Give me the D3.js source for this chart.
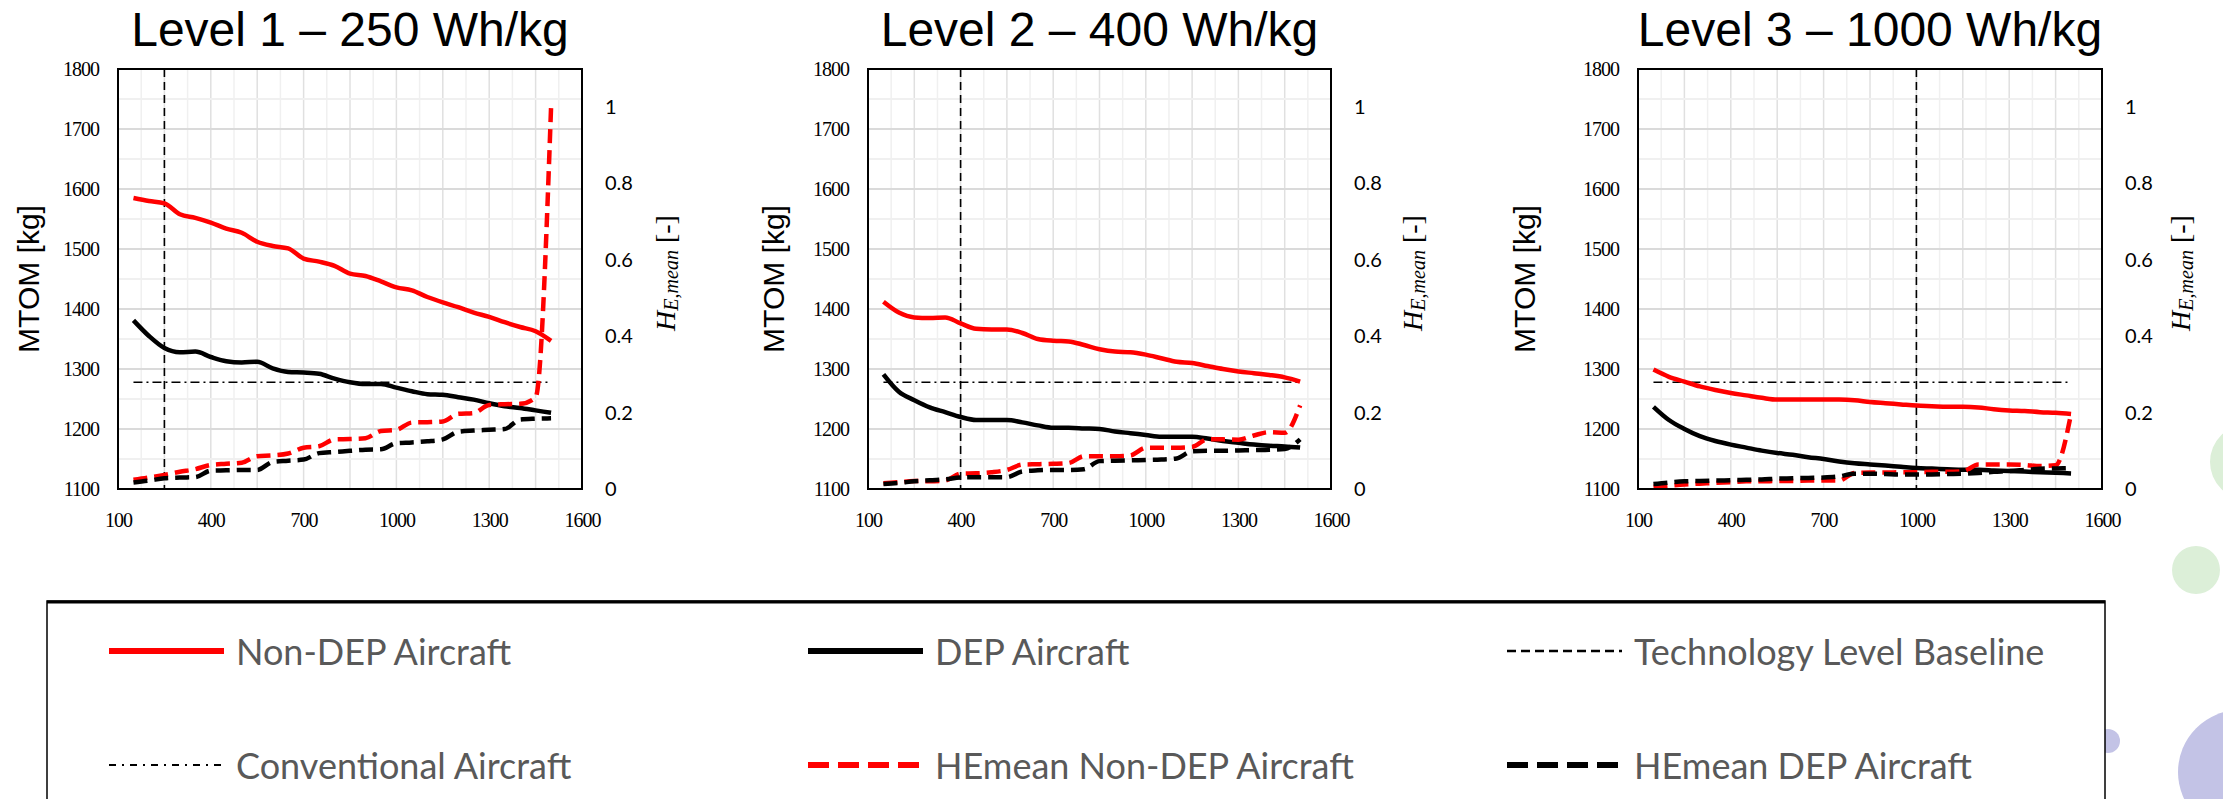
<!DOCTYPE html>
<html>
<head>
<meta charset="utf-8">
<script src="https://cdn.jsdelivr.net/npm/d3@7"></script>
<style>
  body { margin: 0; background: #fff; }
  svg { display: block; }
  .ytick text, .xtick text { font-family: "Liberation Serif", serif; font-size: 20px; letter-spacing: -1px; fill: #000; }
  .htick text { font-family: Lato, sans-serif; font-size: 20px; fill: #000; }
</style>
</head>
<body>
<svg width="2223" height="799"></svg>
<script>
// range values (x) shared by all three panels
const ranges = [150, 200, 250, 300, 350, 400, 450, 500, 550, 600, 650, 700, 750, 800,
                850, 900, 950, 1000, 1050, 1100, 1150, 1200, 1250, 1300, 1350, 1400, 1450, 1500];

const titles = ["Level 1 \u2013 250 Wh/kg", "Level 2 \u2013 400 Wh/kg", "Level 3 \u2013 1000 Wh/kg"];
const baselineRange = [250, 400, 1000];
const conventionalMTOM = 1278;

// Level 1 - MTOM [kg]
const l1NonDep = [1585, 1580, 1576, 1558, 1552, 1544, 1534, 1527, 1512, 1505, 1501, 1484, 1479, 1472,
                  1459, 1455, 1446, 1436, 1431, 1420, 1411, 1403, 1394, 1387, 1378, 1370, 1363, 1347];
const l1Dep = [1381, 1355, 1335, 1328, 1329, 1320, 1313, 1311, 1312, 1301, 1295, 1294, 1292, 1284,
               1278, 1275, 1275, 1269, 1263, 1258, 1257, 1253, 1249, 1243, 1238, 1235, 1231, 1227];
// Level 1 - HE mean [-]
const l1HeNonDep = [0.024, 0.030, 0.037, 0.045, 0.052, 0.063, 0.066, 0.069, 0.086, 0.088, 0.093, 0.108, 0.112, 0.130,
                    0.131, 0.133, 0.152, 0.155, 0.174, 0.175, 0.177, 0.197, 0.199, 0.220, 0.222, 0.223, 0.240, 1.0];
const l1HeDep = [0.017, 0.022, 0.028, 0.030, 0.031, 0.048, 0.049, 0.050, 0.050, 0.071, 0.074, 0.077, 0.094, 0.097,
                 0.100, 0.103, 0.104, 0.120, 0.122, 0.125, 0.130, 0.150, 0.153, 0.155, 0.157, 0.182, 0.184, 0.185];

// Level 2
const l2NonDep = [1412, 1394, 1386, 1385, 1386, 1376, 1367, 1366, 1366, 1360, 1350, 1347, 1346, 1340,
                  1333, 1329, 1328, 1324, 1318, 1312, 1310, 1305, 1300, 1296, 1293, 1290, 1286, 1279];
const l2Dep = [1291, 1262, 1248, 1236, 1228, 1220, 1215, 1215, 1215, 1211, 1206, 1202, 1202, 1201,
               1200, 1196, 1193, 1190, 1187, 1187, 1187, 1184, 1180, 1177, 1174, 1172, 1171, 1169];
const l2HeNonDep = [0.015, 0.018, 0.021, 0.020, 0.022, 0.040, 0.041, 0.044, 0.050, 0.064, 0.065, 0.066, 0.068, 0.086,
                    0.086, 0.086, 0.088, 0.108, 0.108, 0.108, 0.110, 0.130, 0.130, 0.129, 0.140, 0.149, 0.147, 0.219];
const l2HeDep = [0.013, 0.016, 0.020, 0.023, 0.025, 0.030, 0.031, 0.031, 0.031, 0.046, 0.049, 0.050, 0.050, 0.052,
                 0.073, 0.074, 0.075, 0.076, 0.077, 0.080, 0.099, 0.100, 0.100, 0.101, 0.102, 0.103, 0.105, 0.130];

// Level 3
const l3NonDep = [1299, 1287, 1279, 1271, 1265, 1260, 1256, 1252, 1249, 1249, 1249, 1249, 1249, 1248,
                  1245, 1243, 1241, 1239, 1238, 1237, 1237, 1236, 1233, 1231, 1230, 1228, 1227, 1225];
const l3Dep = [1237, 1215, 1200, 1188, 1180, 1174, 1169, 1164, 1160, 1157, 1153, 1150, 1146, 1143,
               1141, 1139, 1137, 1135, 1134, 1133, 1132, 1132, 1131, 1130, 1129, 1128, 1127, 1126];
const l3HeNonDep = [0.006, 0.009, 0.012, 0.014, 0.016, 0.018, 0.020, 0.020, 0.021, 0.021, 0.022, 0.022, 0.022, 0.042,
                    0.043, 0.043, 0.044, 0.044, 0.045, 0.045, 0.046, 0.064, 0.064, 0.064, 0.063, 0.060, 0.062, 0.197];
const l3HeDep = [0.013, 0.017, 0.020, 0.021, 0.022, 0.023, 0.024, 0.025, 0.027, 0.028, 0.029, 0.030, 0.033, 0.040,
                 0.040, 0.039, 0.038, 0.038, 0.038, 0.039, 0.040, 0.042, 0.045, 0.047, 0.050, 0.053, 0.054, 0.055];

const xTicks = [100, 400, 700, 1000, 1300, 1600];
const yTicks = [1100, 1200, 1300, 1400, 1500, 1600, 1700, 1800];
const heTicks = [0, 0.2, 0.4, 0.6, 0.8, 1];

const legendLabels = ["Non-DEP Aircraft", "DEP Aircraft", "Technology Level Baseline",
                      "Conventional Aircraft", "HEmean Non-DEP Aircraft", "HEmean DEP Aircraft"];

const svg = d3.select("svg");
svg.append("rect").attr("width", 2223).attr("height", 799).attr("fill", "#fff");

// decoration circles from the slide background
const deco = svg.append("g");
deco.append("circle").attr("cx", 2248).attr("cy", 462).attr("r", 38).attr("fill", "#dcefd8");
deco.append("circle").attr("cx", 2196).attr("cy", 570).attr("r", 24).attr("fill", "#dcefd8");
deco.append("circle").attr("cx", 2108).attr("cy", 741).attr("r", 12).attr("fill", "#c3c3e6");
deco.append("circle").attr("cx", 2240).attr("cy", 772).attr("r", 62).attr("fill", "#c3c3e6");

const panels = [
  {left: 118, right: 582, yLabelX: 28, hLabelX: 665, nonDep: l1NonDep, dep: l1Dep, heNonDep: l1HeNonDep, heDep: l1HeDep},
  {left: 868, right: 1331, yLabelX: 773, hLabelX: 1412, nonDep: l2NonDep, dep: l2Dep, heNonDep: l2HeNonDep, heDep: l2HeDep},
  {left: 1638, right: 2102, yLabelX: 1524, hLabelX: 2180, nonDep: l3NonDep, dep: l3Dep, heNonDep: l3HeNonDep, heDep: l3HeDep}
];
const plotTop = 69, plotBottom = 489;

panels.forEach(function(p, i) {
  const x = d3.scaleLinear().domain([100, 1600]).range([p.left, p.right]);
  const y = d3.scaleLinear().domain([1100, 1800]).range([plotBottom, plotTop]);
  const y2 = d3.scaleLinear().domain([0, 1.1]).range([plotBottom, plotTop]);
  const g = svg.append("g");

  // grid: minor then major
  const grid = g.append("g");
  grid.selectAll(".vmin").data(d3.range(175, 1600, 150)).enter().append("line")
      .attr("x1", d => x(d)).attr("x2", d => x(d)).attr("y1", plotTop).attr("y2", plotBottom)
      .attr("stroke", "#f0f0f0").attr("stroke-width", 1.5);
  grid.selectAll(".vmaj").data(d3.range(250, 1600, 150)).enter().append("line")
      .attr("x1", d => x(d)).attr("x2", d => x(d)).attr("y1", plotTop).attr("y2", plotBottom)
      .attr("stroke", "#e0e0e0").attr("stroke-width", 1.5);
  grid.selectAll(".hmin").data(d3.range(1150, 1800, 100)).enter().append("line")
      .attr("x1", p.left).attr("x2", p.right).attr("y1", d => y(d)).attr("y2", d => y(d))
      .attr("stroke", "#f0f0f0").attr("stroke-width", 2);
  grid.selectAll(".hmaj").data(d3.range(1200, 1800, 100)).enter().append("line")
      .attr("x1", p.left).attr("x2", p.right).attr("y1", d => y(d)).attr("y2", d => y(d))
      .attr("stroke", "#dadada").attr("stroke-width", 2);

  // axes
  g.append("g").attr("class", "ytick").attr("transform", "translate(" + p.left + ",0)")
    .call(d3.axisLeft(y).tickValues(yTicks).tickSize(0).tickPadding(19).tickFormat(d3.format("d")))
    .call(a => a.select(".domain").remove());
  g.append("g").attr("class", "xtick").attr("transform", "translate(0," + plotBottom + ")")
    .call(d3.axisBottom(x).tickValues(xTicks).tickSize(0).tickPadding(24).tickFormat(d3.format("d")))
    .call(a => a.select(".domain").remove());
  g.append("g").attr("class", "htick").attr("transform", "translate(" + p.right + ",0)")
    .call(d3.axisRight(y2).tickValues(heTicks).tickSize(0).tickPadding(23).tickFormat(d => String(+d.toFixed(1))))
    .call(a => a.select(".domain").remove());
  g.selectAll(".tick text").attr("font-family", null).attr("font-size", null);

  // reference lines
  g.append("line").attr("x1", x(baselineRange[i])).attr("x2", x(baselineRange[i]))
    .attr("y1", plotTop).attr("y2", plotBottom)
    .attr("stroke", "#000").attr("stroke-width", 1.6).attr("stroke-dasharray", "8,5");
  g.append("line").attr("x1", x(150)).attr("x2", x(1500))
    .attr("y1", y(conventionalMTOM)).attr("y2", y(conventionalMTOM))
    .attr("stroke", "#000").attr("stroke-width", 1.6).attr("stroke-dasharray", "9,4,2,4");

  // series
  const lineY = d3.line().x((d, k) => x(ranges[k])).y(d => y(d)).curve(d3.curveMonotoneX);
  const lineH = d3.line().x((d, k) => x(ranges[k])).y(d => y2(d)).curve(d3.curveMonotoneX);
  g.append("path").attr("d", lineY(p.nonDep)).attr("fill", "none").attr("stroke", "#ff0000").attr("stroke-width", 4.5);
  g.append("path").attr("d", lineY(p.dep)).attr("fill", "none").attr("stroke", "#000").attr("stroke-width", 4.5);
  g.append("path").attr("d", lineH(p.heNonDep)).attr("fill", "none").attr("stroke", "#ff0000").attr("stroke-width", 4.5)
    .attr("stroke-dasharray", "14,7");
  g.append("path").attr("d", lineH(p.heDep)).attr("fill", "none").attr("stroke", "#000").attr("stroke-width", 4.5)
    .attr("stroke-dasharray", "14,7");

  // frame
  g.append("rect").attr("x", p.left).attr("y", plotTop).attr("width", p.right - p.left).attr("height", plotBottom - plotTop)
    .attr("fill", "none").attr("stroke", "#000").attr("stroke-width", 2);

  // title
  g.append("text").attr("x", (p.left + p.right) / 2).attr("y", 46).attr("text-anchor", "middle")
    .attr("font-family", "Liberation Sans, Arial, sans-serif").attr("font-size", 48).text(titles[i]);

  // axis titles
  g.append("text").attr("transform", "translate(" + p.yLabelX + "," + ((plotTop + plotBottom) / 2) + ") rotate(-90)")
    .attr("text-anchor", "middle").attr("dominant-baseline", "central")
    .attr("font-family", "Liberation Sans, Arial, sans-serif").attr("font-size", 30).text("MTOM [kg]");
  const ht = g.append("text").attr("transform", "translate(" + p.hLabelX + "," + 273 + ") rotate(-90)")
    .attr("text-anchor", "middle").attr("dominant-baseline", "central")
    .attr("font-family", "Liberation Serif, serif").attr("font-size", 28);
  ht.append("tspan").attr("font-style", "italic").text("H");
  ht.append("tspan").attr("font-style", "italic").attr("font-size", 20).attr("dy", 6).text("E,mean");
  ht.append("tspan").attr("dy", -6).text(" [-]");
});

// legend
const legend = svg.append("g");
legend.append("rect").attr("x", 47).attr("y", 601).attr("width", 2058).attr("height", 240)
  .attr("fill", "#fff").attr("stroke", "#000").attr("stroke-width", 1.5);
legend.append("line").attr("x1", 47).attr("x2", 2105).attr("y1", 602).attr("y2", 602)
  .attr("stroke", "#000").attr("stroke-width", 3);

const legendStyles = [
  {color: "#ff0000", width: 6, dash: null},
  {color: "#000", width: 6, dash: null},
  {color: "#000", width: 2.5, dash: "9,5"},
  {color: "#000", width: 2, dash: "7,6,2,6"},
  {color: "#ff0000", width: 6, dash: "21,9"},
  {color: "#000", width: 6, dash: "21,9"}
];
const colX = [109, 808, 1507];
const rowY = [651, 765];
legendLabels.forEach(function(label, k) {
  const cx = colX[k % 3], cy = rowY[Math.floor(k / 3)];
  const s = legendStyles[k];
  legend.append("line").attr("x1", cx).attr("x2", cx + 115).attr("y1", cy).attr("y2", cy)
    .attr("stroke", s.color).attr("stroke-width", s.width).attr("stroke-dasharray", s.dash);
  legend.append("text").attr("x", cx + 127).attr("y", cy).attr("dominant-baseline", "central")
    .attr("font-family", "Lato, sans-serif").attr("font-size", 36).attr("fill", "#595959").text(label);
});
</script>
</body>
</html>
